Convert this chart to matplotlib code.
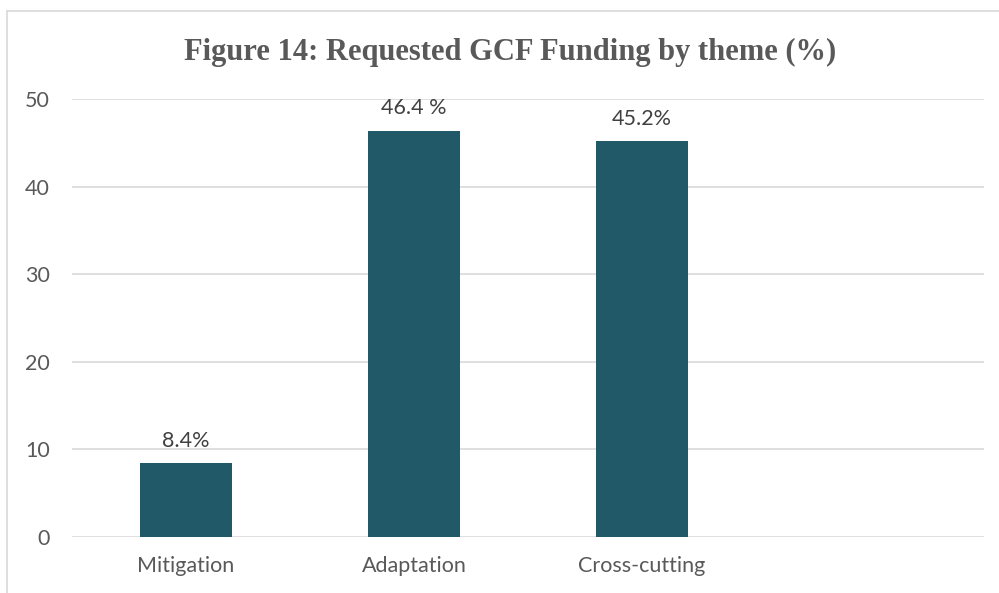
import matplotlib
matplotlib.use("Agg")
import matplotlib.pyplot as plt
from matplotlib.lines import Line2D

categories = ["Mitigation", "Adaptation", "Cross-cutting", ""]
values = [8.4, 46.4, 45.2, None]
labels = ["8.4%", "46.4 %", "45.2%", ""]
yticks = [0, 10, 20, 30, 40, 50]
title = "Figure 14: Requested GCF Funding by theme (%)"

FONT = "Lato"
W, H = 999, 593
fig = plt.figure(figsize=(W / 100, H / 100), dpi=100)
fig.patch.set_facecolor("white")

# outer chart border (left and top visible)
fig.add_artist(Line2D([7 / W, 7 / W], [0, 1 - 11 / H], transform=fig.transFigure,
                      color="#D9D9D9", lw=1.2))
fig.add_artist(Line2D([7 / W, 1], [1 - 11 / H, 1 - 11 / H], transform=fig.transFigure,
                      color="#D9D9D9", lw=1.2))

left, right = 72 / W, 984 / W
bottom = 1 - 537 / H
top = 1 - 99 / H
ax = fig.add_axes([left, bottom, right - left, top - bottom])

x = list(range(len(categories)))
vals = [v if v is not None else 0 for v in values]
bars = ax.bar(x, vals, width=0.4, color="#215968", zorder=3)
ax.set_xlim(-0.5, len(categories) - 0.5)
ax.set_ylim(0, 50)
ax.set_yticks(yticks)
ax.set_xticks(x[:3])
ax.set_xticklabels(categories[:3])
ax.grid(axis="y", color="#D9D9D9", lw=1.2, zorder=0)
for s in ax.spines.values():
    s.set_visible(False)
ax.tick_params(axis="both", length=0, labelsize=15.5, labelcolor="#595959")
ax.tick_params(axis="y", pad=16)
ax.tick_params(axis="x", pad=14)
for lab in ax.get_xticklabels() + ax.get_yticklabels():
    lab.set_fontfamily(FONT)

for xi, v, lab in zip(x, values, labels):
    if v is None:
        continue
    ax.annotate(lab, (xi, v), xytext=(0, 9), textcoords="offset points",
                ha="center", va="bottom", fontsize=15.5, color="#404040",
                family=FONT)

fig.text(510 / W, 1 - 60 / H, title, ha="center", va="baseline", fontsize=22,
         fontweight="bold", color="#595959", family="Liberation Serif")

fig.savefig("out.png", dpi=100)
